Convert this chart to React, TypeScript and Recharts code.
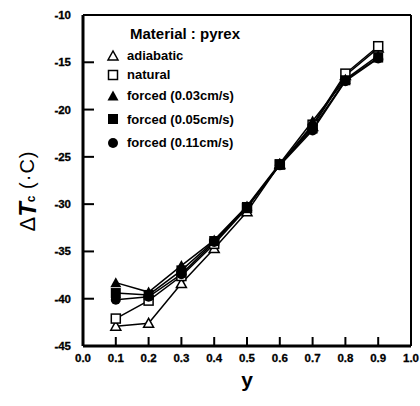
import React from "react";
import { LineChart, Line, XAxis, YAxis, ReferenceLine, Label } from "recharts";

const yValues = [0.1, 0.2, 0.3, 0.4, 0.5, 0.6, 0.7, 0.8, 0.9];
const adiabatic = [-42.9, -42.6, -38.4, -34.7, -30.8, -25.8, -21.8, -16.4, -13.5];
const natural = [-42.1, -40.2, -37.6, -34.2, -30.4, -25.8, -21.6, -16.2, -13.3];
const forced003 = [-38.3, -39.3, -36.5, -33.8, -30.2, -25.7, -21.2, -16.8, -14.3];
const forced005 = [-39.4, -39.6, -37.0, -33.9, -30.3, -25.8, -22.0, -16.9, -14.5];
const forced011 = [-40.1, -39.8, -37.4, -34.0, -30.3, -25.9, -22.2, -17.0, -14.6];

const xTicks = [0, 0.1, 0.2, 0.3, 0.4, 0.5, 0.6, 0.7, 0.8, 0.9, 1.0];
const yTicks = [-10, -15, -20, -25, -30, -35, -40, -45];

const seriesKeys = ["adiabatic", "natural", "forced003", "forced005", "forced011"];
const seriesLabels = ["adiabatic", "natural", "forced (0.03cm/s)", "forced (0.05cm/s)", "forced (0.11cm/s)"];
const seriesMarkers = ["openTriangle", "openSquare", "triangle", "square", "circle"];

const data = yValues.map((y, i) => ({
  y,
  adiabatic: adiabatic[i],
  natural: natural[i],
  forced003: forced003[i],
  forced005: forced005[i],
  forced011: forced011[i],
}));

const FONT = "'Liberation Sans', Arial, sans-serif";

function Marker({ type, cx, cy }: { type: string; cx: number; cy: number }) {
  switch (type) {
    case "openTriangle":
      return <polygon points={`${cx},${cy - 5} ${cx - 5},${cy + 4} ${cx + 5},${cy + 4}`} fill="#fff" stroke="#000" strokeWidth={1.5} />;
    case "openSquare":
      return <rect x={cx - 4.5} y={cy - 4.5} width={9} height={9} fill="#fff" stroke="#000" strokeWidth={1.5} />;
    case "triangle":
      return <polygon points={`${cx},${cy - 5.5} ${cx - 5.5},${cy + 4.5} ${cx + 5.5},${cy + 4.5}`} fill="#000" />;
    case "square":
      return <rect x={cx - 5} y={cy - 5} width={10} height={10} fill="#000" />;
    default:
      return <circle cx={cx} cy={cy} r={5} fill="#000" />;
  }
}

const makeDot = (type: string) => (props: any) => {
  const { cx, cy, index } = props;
  if (cx == null || cy == null) return <g key={`n-${index}`} />;
  return (
    <g key={`${type}-${index}`}>
      <Marker type={type} cx={cx} cy={cy} />
    </g>
  );
};

const YTick = (props: any) => {
  const { x, y, payload } = props;
  const v = payload.value;
  const axisX = x + 12;
  return (
    <g>
      {v !== -10 && v !== -45 && (
        <line x1={axisX} y1={y} x2={axisX + 11} y2={y} stroke="#000" strokeWidth={2} />
      )}
      <text x={x} y={y} dy={4} textAnchor="end" fontFamily={FONT} fontWeight="bold" fontSize={11.5} fill="#000" stroke="#000" strokeWidth={0.3}>
        {v}
      </text>
    </g>
  );
};

const XTick = (props: any) => {
  const { x, y, payload } = props;
  const v = payload.value;
  const axisY = y - 4;
  return (
    <g>
      {v > 0.05 && v < 0.95 && (
        <line x1={x} y1={axisY} x2={x} y2={axisY - 9} stroke="#000" strokeWidth={2} />
      )}
      <text x={x} y={y} dy={12} textAnchor="middle" fontFamily={FONT} fontWeight="bold" fontSize={11.5} fill="#000" stroke="#000" strokeWidth={0.3}>
        {v.toFixed(1)}
      </text>
    </g>
  );
};

const YLabel = (props: any) => {
  const vb = props.viewBox || { x: 0, y: 15, width: 83, height: 331 };
  const cx = vb.x + 27;
  const cy = vb.y + 176;
  return (
    <text
      x={cx}
      y={cy}
      transform={`rotate(-90, ${cx}, ${cy})`}
      textAnchor="middle"
      dominantBaseline="central"
      fontFamily={FONT}
      fill="#000"
    >
      <tspan fontSize={22}>Δ</tspan>
      <tspan fontSize={24} fontWeight="bold" fontStyle="italic">T</tspan>
      <tspan fontSize={12} fontWeight="bold" dy={4}>c</tspan>
      <tspan fontSize={20} dy={-4} letterSpacing={1}>{"   (·C)"}</tspan>
    </text>
  );
};

const XLabel = (props: any) => {
  const vb = props.viewBox || { x: 83, y: 346, width: 328, height: 60 };
  return (
    <text x={vb.x + vb.width / 2} y={vb.y + 41} textAnchor="middle" fontFamily={FONT} fontWeight="bold" fontSize={21} fill="#000">
      y
    </text>
  );
};

function LegendBox() {
  return (
    <div
      style={{
        position: "absolute",
        left: 106,
        top: 26,
        fontFamily: FONT,
        fontWeight: "bold",
        fontSize: 13,
        color: "#000",
        lineHeight: 1,
        pointerEvents: "none",
        whiteSpace: "nowrap",
      }}
    >
      <div style={{ marginLeft: 24, height: 20, fontSize: 15 }}>Material : pyrex</div>
      {seriesLabels.map((label, i) => (
        <div key={label} style={{ display: "flex", alignItems: "center", height: i < 2 ? 19 : 23.5 }}>
          <svg width={14} height={14} style={{ marginRight: 7 }}>
            <Marker type={seriesMarkers[i]} cx={7} cy={7} />
          </svg>
          <span>{label}</span>
        </div>
      ))}
    </div>
  );
}

export default function App() {
  return (
    <div style={{ position: "absolute", left: 0, top: 0, width: 420, height: 406, background: "#fff" }}>
      <LineChart width={420} height={406} data={data} margin={{ top: 15, right: 9, left: 0, bottom: 0 }}>
        <XAxis
          dataKey="y"
          type="number"
          domain={[0, 1]}
          ticks={xTicks}
          interval={0}
          height={60}
          tickSize={0}
          tickMargin={4}
          tickLine={false}
          tick={<XTick />}
          axisLine={{ stroke: "#000", strokeWidth: 3 }}
          allowDataOverflow
        >
          <Label content={<XLabel />} />
        </XAxis>
        <YAxis
          type="number"
          domain={[-45, -10]}
          ticks={yTicks}
          interval={0}
          width={83}
          tickSize={0}
          tickMargin={12}
          tickLine={false}
          tick={<YTick />}
          axisLine={{ stroke: "#000", strokeWidth: 3 }}
          allowDataOverflow
        >
          <Label content={<YLabel />} />
        </YAxis>
        <ReferenceLine y={-10} stroke="#000" strokeWidth={2} />
        <ReferenceLine x={1} stroke="#000" strokeWidth={2} />
        {seriesKeys.map((k, i) => (
          <Line
            key={k}
            dataKey={k}
            stroke="#000"
            strokeWidth={1.5}
            dot={makeDot(seriesMarkers[i])}
            activeDot={false}
            isAnimationActive={false}
          />
        ))}
      </LineChart>
      <LegendBox />
    </div>
  );
}
